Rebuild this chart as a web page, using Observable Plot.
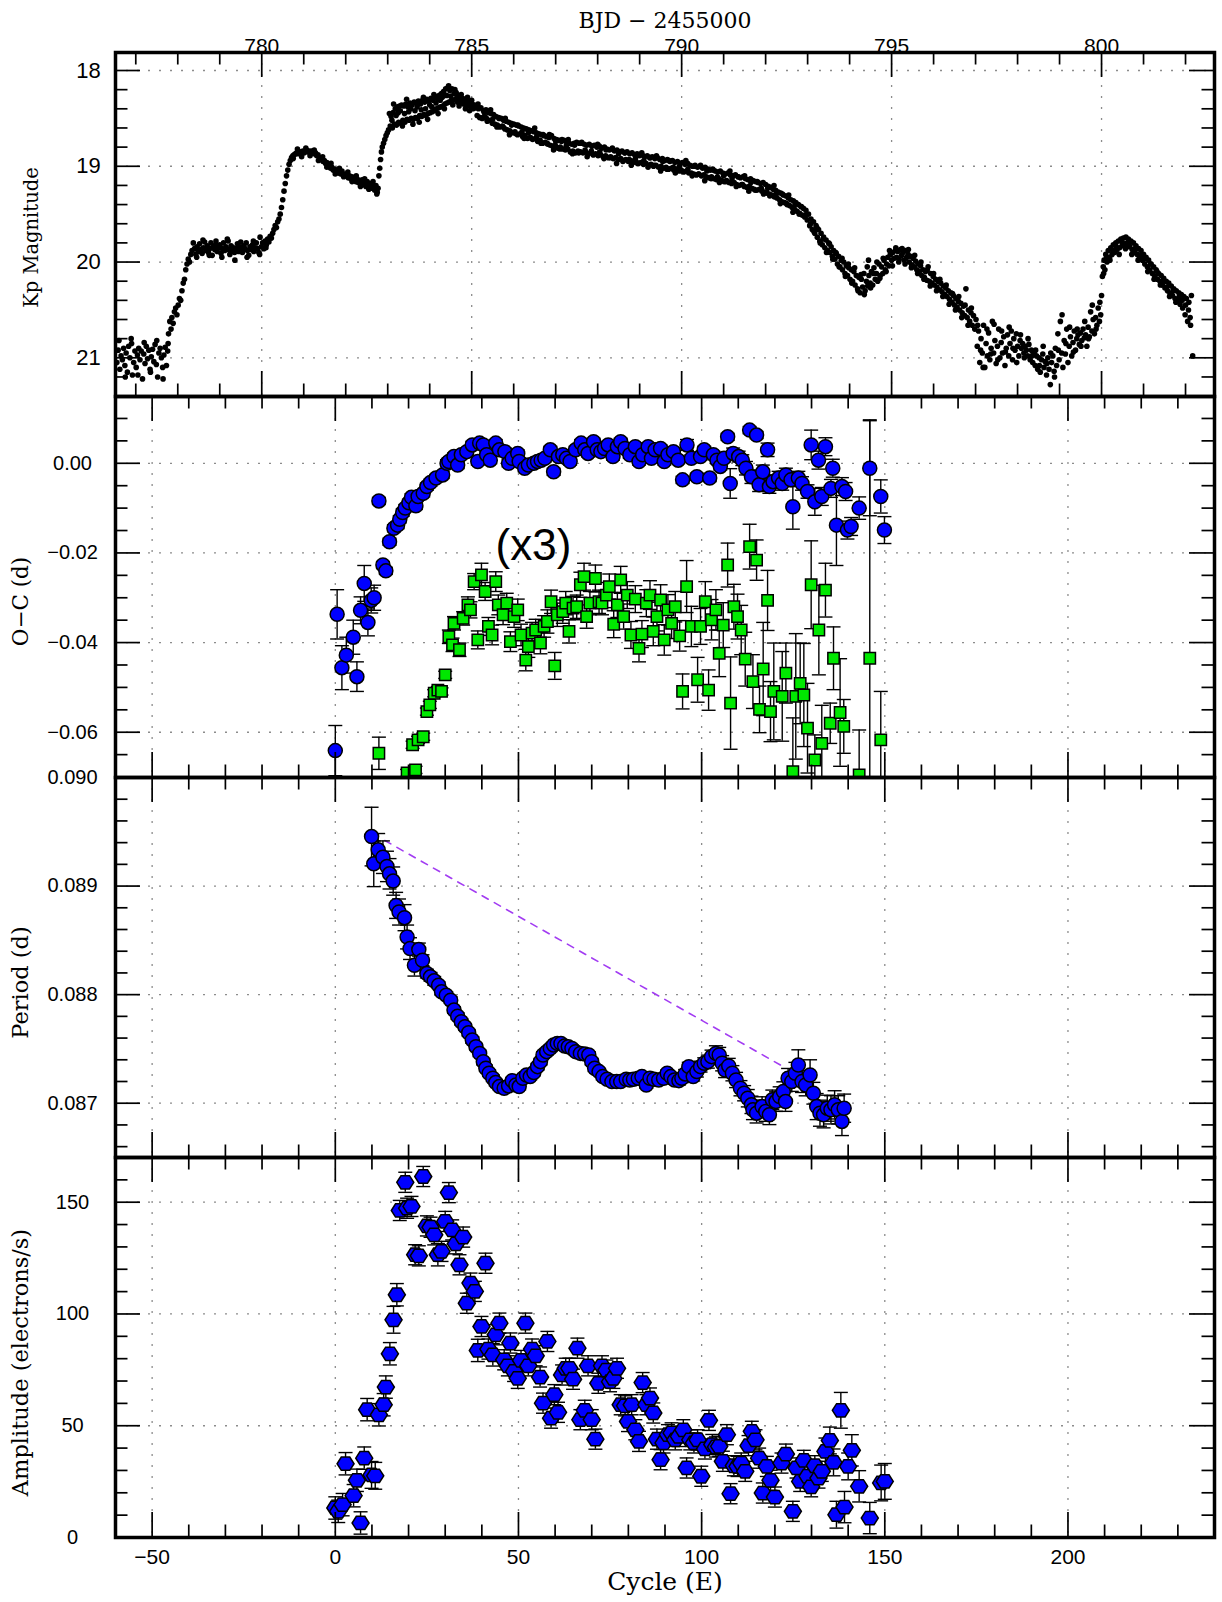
<!DOCTYPE html>
<html><head><meta charset="utf-8">
<script src="https://cdn.jsdelivr.net/npm/d3@7"></script>
<script src="https://cdn.jsdelivr.net/npm/@observablehq/plot@0.6"></script>
<style>
html,body{margin:0;padding:0;background:#fff;}
#chart{position:relative;width:1222px;height:1602px;overflow:hidden;background:#fff;}
</style></head><body><div id="chart"></div>
<script>
// ---------------- DATA ----------------
// Light curve: [BJD-2455000, Kp magnitude]
const lightCurve = [
[776.55,21.05],[776.58,20.92],[776.62,21.12],[776.65,20.98],[776.68,21.02],[776.71,20.90],[776.74,21.08],[776.77,20.95],[776.80,21.15],[776.83,20.88],[776.86,21.00],[776.89,20.80],[776.92,21.18],[776.95,21.05],[776.98,20.93],[777.01,21.10],[777.04,20.97],[777.07,20.90],[777.10,21.02],[777.13,20.93],[777.16,21.22],[777.19,20.96],[777.22,21.06],[777.25,20.88],[777.28,21.01],[777.31,20.92],[777.34,21.12],[777.37,20.99],[777.40,20.91],[777.43,21.04],[777.46,20.86],[777.49,21.07],[777.52,21.20],[777.55,20.95],[777.58,20.90],[777.61,21.00],[777.64,21.10],[777.67,20.97],[777.70,20.89],[777.73,21.08],[777.76,20.93],
[777.78,20.75],[777.81,20.62],[777.84,20.70],[777.86,20.58],[777.89,20.64],[777.92,20.52],[777.95,20.48],[777.98,20.55],[778.01,20.45],[778.04,20.38],[778.07,20.40],[778.10,20.30],[778.13,20.22],[778.16,20.18],[778.19,20.08],[778.22,20.02],[778.25,19.97],[778.28,20.00],[778.31,19.92],
[778.34,19.88],[778.37,19.80],[778.40,19.86],[778.43,19.92],[778.46,19.84],[778.49,19.89],[778.52,19.81],[778.55,19.87],[778.58,19.91],[778.61,19.85],[778.64,19.79],[778.67,19.88],[778.70,19.83],[778.73,19.90],[778.76,19.86],[778.79,19.80],[778.82,19.93],[778.85,19.84],[778.88,19.87],[778.91,19.78],[778.94,19.89],[778.97,19.85],[779.00,19.82],[779.03,19.91],[779.06,19.86],[779.09,19.80],[779.12,19.88],[779.15,19.84],[779.18,19.76],[779.21,19.87],[779.24,19.92],[779.27,19.83],[779.30,19.88],[779.33,19.85],[779.36,19.98],[779.39,19.86],[779.42,19.81],[779.45,19.89],[779.48,19.84],[779.51,19.87],[779.54,19.90],[779.57,19.83],[779.60,19.86],[779.63,19.80],[779.66,19.88],[779.69,19.93],[779.72,19.84],[779.75,19.87],[779.78,19.82],[779.81,19.89],[779.84,19.85],[779.87,19.80],[779.90,19.86],[779.93,19.90],[779.96,19.74],[779.99,19.84],[780.02,19.80],[780.05,19.86],[780.08,19.78],[780.11,19.82],[780.14,19.76],[780.17,19.79],[780.20,19.73],[780.23,19.75],
[780.26,19.70],[780.29,19.66],[780.32,19.62],[780.35,19.64],[780.38,19.58],[780.41,19.55],[780.44,19.50],[780.47,19.43],[780.50,19.35],[780.53,19.26],[780.56,19.18],[780.59,19.10],[780.62,19.04],[780.65,18.98],[780.68,18.94],[780.71,18.91],[780.74,18.89],[780.77,18.88],[780.80,18.87],[780.83,18.86],[780.86,18.87],[780.89,18.85],[780.92,18.86],[780.95,18.85],[780.98,18.84],[781.01,18.86],[781.04,18.84],[781.07,18.83],[781.10,18.85],[781.13,18.84],[781.16,18.86],[781.19,18.84],[781.22,18.85],[781.25,18.87],[781.28,18.86],[781.31,18.89],[781.34,18.88],[781.37,18.91],[781.40,18.93],[781.43,18.92],[781.46,18.95],[781.49,18.94],[781.52,18.97],[781.55,18.96],[781.58,19.00],[781.61,18.99],[781.64,19.02],[781.67,19.01],[781.70,19.04],[781.73,19.03],[781.76,19.05],[781.79,19.04],[781.82,19.07],[781.85,19.06],[781.88,19.08],[781.91,19.05],[781.94,19.09],[781.97,19.08],[782.00,19.10],[782.03,19.09],[782.06,19.12],[782.09,19.10],[782.12,19.13],[782.15,19.11],[782.18,19.14],[782.21,19.12],[782.24,19.16],[782.27,19.13],[782.30,19.17],[782.33,19.15],[782.36,19.18],[782.39,19.14],[782.42,19.19],[782.45,19.17],[782.48,19.21],[782.51,19.16],[782.54,19.20],[782.57,19.18],[782.60,19.23],[782.63,19.19],[782.66,19.22],[782.69,19.25],[782.72,19.20],[782.75,19.27],[782.77,19.23],
[782.79,19.10],[782.81,19.02],[782.83,18.93],[782.85,18.85],[782.87,18.80],[782.90,18.76],[782.93,18.72],[782.96,18.68],[782.99,18.65],[783.02,18.62],
[783.06,18.58],[783.08,18.48],[783.11,18.60],[783.13,18.44],[783.16,18.56],[783.18,18.40],[783.21,18.57],[783.23,18.38],[783.26,18.54],[783.28,18.37],[783.31,18.55],[783.33,18.36],[783.36,18.52],[783.38,18.37],[783.41,18.54],[783.43,18.35],[783.46,18.51],[783.48,18.38],[783.51,18.52],[783.53,18.34],[783.56,18.50],[783.58,18.36],[783.61,18.51],[783.63,18.33],[783.66,18.49],[783.68,18.34],[783.71,18.50],[783.73,18.32],[783.76,18.47],[783.78,18.35],[783.81,18.48],[783.83,18.31],[783.86,18.46],[783.88,18.33],[783.91,18.47],[783.93,18.30],[783.96,18.45],[783.98,18.32],[784.01,18.44],[784.03,18.29],[784.06,18.43],[784.08,18.31],[784.11,18.42],[784.13,18.27],[784.16,18.40],[784.18,18.29],[784.21,18.39],[784.23,18.26],[784.26,18.38],[784.28,18.24],[784.31,18.37],[784.33,18.22],[784.36,18.35],[784.38,18.19],[784.41,18.34],[784.43,18.18],[784.46,18.33],[784.48,18.21],[784.51,18.32],[784.53,18.19],[784.56,18.31],[784.58,18.24],[784.61,18.30],[784.63,18.23],[784.66,18.33],[784.68,18.26],[784.71,18.32],[784.73,18.27],[784.76,18.34],[784.78,18.29],[784.81,18.35],[784.83,18.30],[784.86,18.36],[784.88,18.31],[784.91,18.34],[784.93,18.37],[784.96,18.33],[784.98,18.38],[785.01,18.35],[785.03,18.40],[785.06,18.36],[785.08,18.39],
[785.10,18.37],[785.13,18.47],[785.16,18.40],[785.19,18.49],[785.22,18.39],[785.25,18.50],[785.28,18.42],[785.31,18.48],[785.34,18.41],[785.37,18.53],[785.40,18.44],[785.43,18.52],[785.46,18.45],[785.49,18.55],[785.52,18.46],[785.55,18.56],[785.58,18.48],[785.61,18.57],[785.64,18.49],[785.67,18.59],[785.70,18.50],[785.73,18.58],[785.76,18.52],[785.79,18.61],[785.82,18.53],[785.85,18.62],[785.88,18.54],[785.91,18.63],[785.94,18.55],[785.97,18.65],[786.00,18.56],[786.03,18.64],[786.06,18.57],[786.09,18.67],[786.12,18.58],[786.15,18.66],[786.18,18.59],[786.21,18.69],[786.24,18.60],[786.27,18.68],[786.30,18.61],[786.33,18.71],[786.36,18.62],[786.39,18.70],[786.42,18.63],[786.45,18.72],[786.48,18.64],[786.51,18.71],[786.54,18.65],[786.57,18.74],[786.60,18.66],[786.63,18.73],[786.66,18.67],[786.69,18.76],[786.72,18.68],[786.75,18.75],[786.78,18.69],[786.81,18.77],[786.84,18.70],[786.87,18.78],[786.90,18.68],[786.93,18.79],[786.96,18.71],[786.99,18.78],[787.02,18.72],[787.05,18.81],[787.08,18.73],[787.11,18.80],[787.14,18.74],[787.17,18.82],[787.20,18.73],[787.23,18.83],[787.26,18.75],[787.29,18.82],[787.32,18.76],[787.35,18.85],[787.38,18.77],[787.41,18.84],[787.44,18.76],[787.47,18.86],
[787.50,18.75],[787.53,18.84],[787.56,18.76],[787.59,18.85],[787.62,18.75],[787.65,18.86],[787.68,18.77],[787.71,18.85],[787.74,18.78],[787.77,18.87],[787.80,18.77],[787.83,18.86],[787.86,18.79],[787.89,18.88],[787.92,18.78],[787.95,18.87],[787.98,18.80],[788.01,18.89],[788.04,18.79],[788.07,18.88],[788.10,18.81],[788.13,18.90],[788.16,18.80],[788.19,18.89],[788.22,18.82],[788.25,18.91],[788.28,18.83],[788.31,18.90],[788.34,18.82],[788.37,18.92],[788.40,18.84],[788.43,18.91],[788.46,18.83],[788.49,18.93],[788.52,18.85],[788.55,18.92],[788.58,18.84],[788.61,18.94],[788.64,18.86],[788.67,18.93],[788.70,18.85],[788.73,18.95],[788.76,18.87],[788.79,18.94],[788.82,18.86],[788.85,18.96],[788.88,18.88],[788.91,18.95],[788.94,18.87],[788.97,18.97],[789.00,18.89],[789.03,18.96],[789.06,18.88],[789.09,18.98],[789.12,18.90],[789.15,18.97],[789.18,18.89],[789.21,18.99],[789.24,18.91],[789.27,18.98],[789.30,18.90],[789.33,19.00],[789.36,18.92],[789.39,18.99],[789.42,18.91],[789.45,19.01],[789.48,18.93],[789.51,19.00],[789.54,18.92],[789.57,19.02],[789.60,18.94],[789.63,19.01],[789.66,18.93],[789.69,19.03],[789.72,18.95],[789.75,19.02],[789.78,18.94],[789.81,19.04],[789.84,18.96],[789.87,19.03],[789.90,18.95],[789.93,19.05],[789.96,18.97],[789.99,19.04],[790.02,18.96],[790.05,19.06],[790.08,18.98],[790.11,19.05],[790.14,18.97],[790.17,19.07],[790.20,18.99],[790.23,19.07],[790.26,19.00],[790.29,19.08],[790.32,18.99],[790.35,19.09],[790.38,19.01],[790.41,19.08],[790.44,19.00],[790.47,19.10],[790.50,19.02],[790.53,19.09],[790.56,19.01],[790.59,19.11],[790.62,19.03],[790.65,19.12],[790.68,19.04],[790.71,19.11],[790.74,19.03],[790.77,19.13],[790.80,19.05],[790.83,19.14],[790.86,19.06],[790.89,19.13],[790.92,19.05],[790.95,19.15],[790.98,19.07],[791.01,19.16],[791.04,19.08],[791.07,19.15],[791.10,19.07],[791.13,19.17],[791.16,19.09],[791.19,19.18],[791.22,19.10],[791.25,19.17],[791.28,19.09],[791.31,19.19],[791.34,19.11],[791.37,19.20],[791.40,19.12],[791.43,19.19],[791.46,19.11],[791.49,19.21],[791.52,19.13],[791.55,19.22],[791.58,19.14],[791.61,19.21],[791.64,19.13],[791.67,19.23],[791.70,19.15],[791.73,19.24],[791.76,19.16],[791.79,19.25],[791.82,19.17],[791.85,19.24],[791.88,19.18],[791.91,19.26],[791.94,19.17],[791.97,19.27],[792.00,19.19],[792.03,19.28],[792.06,19.21],[792.09,19.29],[792.12,19.22],[792.15,19.30],[792.18,19.24],[792.21,19.32],[792.24,19.25],[792.27,19.33],[792.30,19.27],[792.33,19.35],[792.36,19.28],[792.39,19.37],[792.42,19.30],[792.45,19.38],[792.48,19.31],[792.51,19.40],[792.54,19.33],[792.57,19.41],[792.60,19.35],[792.63,19.43],[792.66,19.36],[792.69,19.45],[792.72,19.38],[792.75,19.47],[792.78,19.40],[792.81,19.49],[792.84,19.42],[792.87,19.51],[792.90,19.44],[792.93,19.53],[792.96,19.46],[792.99,19.56],
[793.02,19.50],[793.05,19.62],[793.08,19.55],[793.11,19.66],[793.14,19.58],[793.17,19.70],[793.20,19.62],[793.23,19.74],[793.26,19.66],[793.29,19.78],[793.32,19.70],[793.35,19.82],[793.38,19.74],[793.41,19.85],[793.44,19.77],[793.47,19.88],[793.50,19.80],[793.53,19.90],[793.56,19.84],[793.59,19.94],[793.62,19.88],[793.65,19.97],[793.68,19.91],[793.71,20.02],[793.74,19.94],[793.77,20.05],[793.80,19.98],[793.83,20.08],[793.86,20.00],[793.89,20.12],[793.92,20.04],[793.95,20.14],[793.98,20.06],[794.01,20.18],[794.04,20.08],[794.07,20.20],[794.10,20.10],[794.13,20.24],[794.16,20.14],[794.19,20.28],[794.22,20.16],[794.25,20.32],[794.28,20.18],[794.31,20.26],[794.34,20.12],[794.37,20.30],[794.40,20.20],[794.43,20.25],[794.46,20.14],[794.49,20.22],[794.52,20.10],[794.55,20.24],[794.58,20.06],[794.61,20.18],[794.64,20.12],[794.67,20.20],[794.70,20.02],[794.73,20.14],[794.76,20.05],[794.79,20.12],[794.82,19.98],[794.85,20.08],[794.88,20.02],[794.91,19.95],[794.94,20.04],[794.97,19.92],[795.00,19.98],[795.03,19.90],[795.06,19.96],[795.09,19.88],[795.12,19.95],[795.15,19.89],[795.18,19.97],[795.21,19.87],[795.24,19.93],[795.27,19.90],[795.30,19.98],[795.33,19.88],[795.36,19.95],[795.39,19.92],[795.42,20.00],[795.45,19.94],[795.48,20.03],[795.51,19.96],[795.54,20.05],[795.57,19.99],[795.60,20.08],[795.63,20.02],[795.66,20.10],[795.69,20.04],[795.72,20.14],[795.75,20.08],[795.78,20.16],[795.81,20.10],[795.84,20.19],[795.87,20.05],[795.90,20.20],[795.93,20.12],[795.96,20.22],[795.99,20.15],[796.02,20.24],[796.05,20.18],[796.08,20.26],[796.11,20.20],[796.14,20.29],[796.17,20.22],[796.20,20.31],[796.23,20.25],[796.26,20.34],[796.29,20.27],[796.32,20.36],[796.35,20.30],[796.38,20.39],[796.41,20.32],[796.44,20.42],[796.47,20.35],[796.50,20.45],[796.53,20.38],[796.56,20.47],[796.59,20.41],[796.62,20.50],[796.65,20.43],[796.68,20.53],[796.71,20.46],[796.74,20.56],[796.77,20.28],[796.80,20.58],[796.83,20.50],[796.86,20.62],[796.89,20.53],[796.92,20.66],[796.95,20.56],[796.98,20.70],
[797.01,20.60],[797.04,20.88],[797.07,20.72],[797.10,21.05],[797.13,20.80],[797.16,20.95],[797.19,20.66],[797.22,21.10],[797.25,20.85],[797.28,20.98],[797.31,20.74],[797.34,21.02],[797.37,20.90],[797.40,20.62],[797.43,20.95],[797.46,20.82],[797.49,21.06],[797.52,20.88],[797.55,20.70],[797.58,21.00],[797.61,20.84],[797.64,20.95],[797.67,20.78],[797.70,21.08],[797.73,20.90],[797.76,20.76],[797.79,20.98],[797.82,20.85],[797.85,20.72],[797.88,21.02],[797.91,20.80],[797.94,20.92],[797.97,20.75],[798.00,20.88],[798.03,20.98],[798.06,20.82],[798.09,20.90],[798.12,20.85],[798.15,20.95],[798.18,20.88],[798.21,20.92],[798.24,20.98],[798.27,20.86],[798.30,21.02],[798.33,20.92],[798.36,21.05],[798.39,20.95],[798.42,21.08],[798.45,20.98],[798.48,21.12],[798.51,21.00],[798.54,21.15],[798.57,21.02],[798.60,20.96],[798.63,21.10],[798.66,21.04],[798.69,21.18],[798.72,21.00],[798.75,21.12],[798.78,21.28],[798.81,21.05],[798.84,20.98],[798.87,21.14],[798.90,20.90],[798.93,21.08],[798.96,20.75],[798.99,21.02],[799.02,20.62],[799.05,20.95],[799.08,21.10],[799.11,20.82],[799.14,20.96],[799.17,20.70],[799.20,21.05],[799.23,20.88],[799.26,20.78],[799.29,20.98],[799.32,20.84],[799.35,20.72],[799.38,20.92],[799.41,20.80],[799.44,20.76],[799.47,20.86],[799.50,20.74],[799.53,20.82],[799.56,20.70],[799.59,20.79],[799.62,20.76],[799.65,20.88],[799.68,20.68],[799.71,20.78],[799.74,20.52],[799.77,20.72],[799.80,20.60],[799.83,20.75],[799.86,20.58],[799.89,20.66],[799.92,20.48],[799.95,20.62],[799.98,20.55],
[800.00,20.35],[800.02,20.15],[800.04,20.05],[800.06,19.98],[800.08,20.08],[800.10,19.92],[800.13,20.00],[800.16,19.88],[800.19,19.95],[800.22,19.85],[800.25,19.92],[800.28,19.82],[800.31,19.90],[800.34,19.80],[800.37,19.87],[800.40,19.78],[800.43,19.85],[800.46,19.76],[800.49,19.83],[800.52,19.75],[800.55,19.82],[800.58,19.74],[800.61,19.80],[800.64,19.76],[800.67,19.84],[800.70,19.78],[800.73,19.87],[800.76,19.80],[800.79,19.90],[800.82,19.83],[800.85,19.92],[800.88,19.86],[800.91,19.95],[800.94,19.88],[800.97,19.98],[801.00,19.92],[801.03,20.02],[801.06,19.95],[801.09,20.05],[801.12,19.98],[801.15,20.08],[801.18,20.02],[801.21,20.12],[801.24,20.05],[801.27,20.15],[801.30,20.08],[801.33,20.18],[801.36,20.12],[801.39,20.20],[801.42,20.14],[801.45,20.24],[801.48,20.17],[801.51,20.27],[801.54,20.20],[801.57,20.30],[801.60,20.22],[801.63,20.33],[801.66,20.25],[801.69,20.35],[801.72,20.28],[801.75,20.38],[801.78,20.30],[801.81,20.40],[801.84,20.32],[801.87,20.44],[801.90,20.34],[801.93,20.48],[801.96,20.36],[801.99,20.55],[802.02,20.38],[802.05,20.62],[802.08,20.42],[802.11,20.58],[802.14,20.35],[802.17,20.98]
];
const lightCurve2 = [
[776.60,20.82],[776.75,21.20],[776.90,20.85],[777.05,21.18],[777.20,20.84],[777.35,21.15],[777.50,20.82],[777.65,21.22],[777.77,20.85],
[778.45,19.95],[778.60,19.77],[778.75,19.93],[778.90,19.82],[779.05,19.95],[779.20,19.78],[779.35,19.90],[779.50,19.79],[779.65,19.95],[779.80,19.78],[779.95,19.92],[780.10,19.85],
[780.75,18.92],[780.85,18.82],[780.95,18.90],[781.05,18.81],[781.15,18.89],[781.25,18.83],[781.35,18.94],[781.45,18.90],[781.55,19.01],[781.65,18.97],[781.75,19.08],[781.85,19.02],[781.95,19.11],[782.05,19.06],[782.15,19.16],[782.25,19.10],[782.35,19.21],[782.45,19.13],[782.55,19.24],[782.65,19.16],[782.74,19.29],
[783.04,18.45],[783.10,18.52],[783.14,18.35],[783.20,18.47],[783.25,18.44],[783.30,18.42],[783.35,18.58],[783.40,18.45],[783.45,18.30],[783.50,18.43],[783.55,18.40],[783.60,18.56],[783.65,18.42],[783.70,18.38],[783.75,18.54],[783.80,18.41],[783.85,18.28],[783.90,18.40],[783.95,18.51],[784.00,18.36],[784.05,18.38],[784.10,18.25],[784.15,18.34],[784.20,18.45],[784.25,18.31],[784.30,18.28],[784.35,18.40],[784.40,18.26],[784.45,18.16],[784.50,18.27],[784.55,18.36],[784.60,18.20],[784.65,18.28],[784.70,18.37],[784.75,18.25],[784.80,18.31],[784.85,18.40],[784.90,18.28],[784.95,18.42],[785.00,18.31],
[785.05,18.39],[785.15,18.35],[785.20,18.49],[785.30,18.44],[785.35,18.50],[785.45,18.41],[785.50,18.51],[785.60,18.59],[785.65,18.50],[785.75,18.59],[785.80,18.50],[785.90,18.67],[785.95,18.57],[786.05,18.66],[786.10,18.57],[786.20,18.64],[786.25,18.71],[786.35,18.65],[786.40,18.70],[786.50,18.60],[786.55,18.69],[786.65,18.76],[786.70,18.67],[786.80,18.76],[786.85,18.67],[786.95,18.83],[787.00,18.74],[787.10,18.82],[787.15,18.72],[787.25,18.79],[787.30,18.72],[787.40,18.87],[787.45,18.78],[787.55,18.86],[787.60,18.76],[787.70,18.83],[787.75,18.90],[787.85,18.84],[787.90,18.88],[788.00,18.77],[788.05,18.85],[788.15,18.92],[788.20,18.83],[788.30,18.91],[788.35,18.81],[788.45,18.97],[788.50,18.87],[788.60,18.95],[788.65,18.86],[788.75,18.93],[788.80,18.99],[788.90,18.92],[788.95,18.97],[789.05,18.86],[789.10,18.94],[789.20,19.01],[789.25,18.91],[789.35,18.99],[789.40,18.89],[789.50,19.05],[789.55,18.95],[789.65,19.03],[789.70,18.94],[789.80,19.01],[789.85,19.07],[789.95,19.00],[790.00,19.05],[790.10,18.94],[790.15,19.03],[790.25,19.10],[790.30,19.00],[790.40,19.08],[790.45,18.99],[790.55,19.15],[790.60,19.05],[790.70,19.13],[790.75,19.04],[790.85,19.11],[790.90,19.17],[791.00,19.10],[791.05,19.16],[791.15,19.05],[791.20,19.13],[791.30,19.21],[791.35,19.11],[791.45,19.19],[791.50,19.10],[791.60,19.26],[791.65,19.17],[791.75,19.25],[791.80,19.16],[791.90,19.23],[791.95,19.29],[792.05,19.23],[792.10,19.31],[792.20,19.20],[792.25,19.29],[792.35,19.39],[792.40,19.29],[792.50,19.39],[792.55,19.30],[792.65,19.48],[792.70,19.40],[792.80,19.50],[792.85,19.42],[792.95,19.51],
[793.07,19.60],[793.15,19.68],[793.22,19.64],[793.30,19.80],[793.37,19.76],[793.45,19.90],[793.52,19.81],[793.60,19.97],[793.67,19.90],[793.75,20.05],[793.82,19.96],[793.90,20.15],[793.97,20.02],[794.05,20.22],[794.12,20.06],[794.20,20.30],[794.27,20.13],[794.35,20.34],[794.42,20.05],[794.45,19.98],[794.50,20.27],[794.57,20.12],[794.65,20.00],[794.72,20.17],[794.80,19.96],[794.87,20.10],[794.95,19.88],[795.02,20.04],[795.10,19.85],[795.17,20.00],[795.25,19.86],[795.32,20.02],[795.40,19.87],[795.47,20.06],[795.55,19.93],[795.62,20.12],[795.70,20.00],[795.77,20.18],[795.85,20.08],[795.92,20.25],[796.00,20.12],[796.07,20.30],[796.15,20.18],[796.22,20.36],[796.30,20.24],[796.37,20.44],[796.45,20.33],[796.52,20.50],[796.60,20.36],[796.67,20.58],[796.75,20.45],[796.82,20.66],[796.90,20.48],
[797.05,20.66],[797.12,20.92],[797.18,21.10],[797.27,20.70],[797.36,20.96],[797.44,20.65],[797.53,21.02],[797.62,20.72],[797.71,20.94],[797.80,20.68],[797.89,20.90],[797.98,21.05],[798.07,20.76],[798.16,21.00],[798.25,20.80],[798.34,20.98],[798.43,20.92],[798.52,21.08],[798.61,20.88],[798.70,21.06],[798.79,20.95],[798.88,21.20],[798.97,20.92],[799.06,20.55],[799.15,20.85],[799.24,20.68],[799.33,20.94],[799.42,20.70],[799.51,20.88],[799.60,20.62],[799.69,20.80],[799.78,20.45],[799.87,20.70],[799.96,20.42],
[800.05,20.12],[800.12,19.95],[800.20,19.98],[800.27,19.88],[800.35,19.84],[800.42,19.92],[800.50,19.80],[800.57,19.86],[800.65,19.82],[800.72,19.92],[800.80,19.86],[800.87,19.98],[800.95,19.93],[801.02,19.97],[801.10,20.10],[801.17,20.02],[801.25,20.18],[801.32,20.10],[801.40,20.24],[801.47,20.20],[801.55,20.26],[801.62,20.36],[801.70,20.30],[801.77,20.42],[801.85,20.36],[801.92,20.40],[802.00,20.45],[802.07,20.50],[802.12,20.66]
];

// O-C (d): [cycle E, O-C, error]
const ocBlue = [
[0,-0.0641,0.0056],[0.5,-0.0337,0.0055],[1.8,-0.0456,0.0049],[3,-0.0428,0.004],[4.9,-0.0388,0.0038],[5.9,-0.0476,0.0033],[6.9,-0.0328,0.003],[7.9,-0.0268,0.004],[8.9,-0.0355,0.003],[9.8,-0.0306,0.0028],[10.6,-0.0300,0.0028],[11.9,-0.0084,0.0008],[13,-0.0227,0.0008],[13.8,-0.0240,0.0008],[14.8,-0.0175,0.0008],[16,-0.0145,0.0008],[17,-0.0138,0.0008],[17.6,-0.0125,0.0008],[18.4,-0.0110,0.0008],[19.1,-0.0100,0.0008],[20.1,-0.0088,0.0008],[20.8,-0.0076,0.0008],[22,-0.0095,0.0008],[22.6,-0.0074,0.0008],[24,-0.0067,0.0008],[25,-0.0052,0.0008],[26,-0.0043,0.0008],[27.5,-0.0033,0.0008],[29.3,-0.0026,0.0008],[30.5,0.0000,0.0008],[31,0.0004,0.0008],[32.4,0.0015,0.0008],[33.4,-0.0004,0.0008],[34.4,0.0019,0.0008],[35.9,0.0026,0.0008],[37.4,0.0041,0.0008],[38.9,0.0004,0.0008],[39.4,0.0045,0.0008],[40.4,0.0041,0.0008],[41.3,0.0019,0.0008],[42.3,0.0007,0.0008],[43.8,0.0045,0.0008],[44.8,0.0030,0.0008],[46.3,0.0026,0.0008],[47.3,0.0000,0.0008],[48.3,0.0011,0.0008],[49.8,0.0022,0.0008],[50.2,0.0004,0.0008],[51.7,-0.0011,0.0008],[52.7,-0.0004,0.0008],[54.2,0.0000,0.0008],[55.2,0.0004,0.0008],[56.2,0.0007,0.0008],[57.2,0.0011,0.0008],[58.7,0.0030,0.0008],[59.6,-0.0019,0.0008],[60.9,0.0015,0.0008],[62.1,0.0019,0.0008],[63.1,0.0011,0.0008],[64.1,0.0004,0.0008],[65.6,0.0030,0.0008],[67.1,0.0045,0.0008],[68.1,0.0030,0.0008],[69.0,0.0022,0.0008],[70.5,0.0048,0.0008],[71.5,0.0030,0.0008],[72.5,0.0026,0.0008],[73.5,0.0033,0.0008],[74.5,0.0041,0.0008],[75.8,0.0015,0.0008],[77,0.0037,0.0008],[77.9,0.0048,0.0008],[79.1,0.0033,0.0008],[80.4,0.0019,0.0008],[81.9,0.0037,0.0008],[82.9,0.0004,0.0008],[83.9,0.0019,0.0008],[85.4,0.0037,0.0008],[86.3,0.0011,0.0008],[87.3,0.0030,0.0008],[88.8,0.0033,0.0008],[89.8,0.0004,0.0008],[90.8,0.0019,0.0008],[92.3,0.0026,0.0008],[93.6,0.0007,0.0008],[94.8,-0.0037,0.0008],[96.0,0.0041,0.0012],[97.2,0.0011,0.0008],[98.7,-0.0030,0.0008],[99.7,0.0015,0.0008],[100.7,0.0030,0.0008],[102.2,-0.0033,0.0008],[103.2,0.0019,0.0008],[104.2,0.0007,0.0008],[105.1,-0.0007,0.0008],[106.1,0.0011,0.0008],[107.1,0.0059,0.0008],[107.8,-0.0045,0.0033],[108.6,0.0022,0.0012],[110.1,0.0015,0.0012],[111.1,0.0007,0.0012],[112.1,-0.0011,0.0015],[113.1,0.0074,0.0008],[113.6,-0.0030,0.0015],[115,0.0063,0.0008],[115.7,-0.0048,0.0015],[116.7,-0.0019,0.0015],[118,0.0030,0.0015],[118.5,-0.0052,0.0015],[119.5,-0.0041,0.0015],[121,-0.0033,0.0015],[122,-0.0045,0.0015],[123,-0.0026,0.0015],[124.4,-0.0037,0.0015],[124.9,-0.0097,0.0050],[126.4,-0.0033,0.0015],[127.4,-0.0045,0.0015],[128.9,-0.0063,0.0015],[129.9,0.0041,0.0033],[130.9,-0.0086,0.0030],[131.9,0.0007,0.0020],[132.8,-0.0074,0.0020],[133.8,0.0037,0.0020],[135.3,-0.0056,0.0020],[135.8,-0.0011,0.0020],[136.8,-0.0138,0.0090],[138.3,-0.0052,0.0020],[139.3,-0.0063,0.0020],[139.8,-0.0149,0.0020],[140.8,-0.0141,0.0020],[143,-0.0100,0.0025],[145.9,-0.0011,0.0106],[148.9,-0.0074,0.0037],[149.9,-0.0149,0.0030]
];
const ocGreen = [
[11.9,-0.0647,0.0036],[19.6,-0.0691,0.0008],[21.1,-0.0628,0.0008],[21.9,-0.0684,0.0008],[22.6,-0.0617,0.0008],[24,-0.0610,0.0008],[25,-0.0554,0.0008],[25.8,-0.0539,0.0008],[27,-0.0513,0.0008],[28,-0.0506,0.0008],[29,-0.0509,0.0008],[30,-0.0472,0.0008],[31,-0.0387,0.0015],[32,-0.0405,0.0015],[32.4,-0.0357,0.0015],[33.9,-0.0416,0.0015],[34.9,-0.0346,0.0015],[36.2,-0.0316,0.0018],[36.9,-0.0327,0.0018],[37.9,-0.0264,0.0018],[38.9,-0.0394,0.0020],[39.9,-0.0249,0.0026],[40.9,-0.0286,0.0020],[41.8,-0.0364,0.0020],[42.8,-0.0383,0.0022],[43.8,-0.0264,0.0022],[44.5,-0.0316,0.0022],[45.8,-0.0338,0.0022],[46.8,-0.0312,0.0022],[47.8,-0.0398,0.0022],[48.8,-0.0342,0.0024],[49.8,-0.0327,0.0024],[50.7,-0.0383,0.0024],[52,-0.0439,0.0024],[52.7,-0.0409,0.0024],[53.7,-0.0379,0.0024],[54.7,-0.0372,0.0024],[56,-0.0401,0.0024],[57,-0.0364,0.0024],[57.9,-0.0353,0.0026],[58.9,-0.0309,0.0026],[59.9,-0.0452,0.0030],[60.6,-0.0338,0.0026],[62.1,-0.0331,0.0026],[62.9,-0.0312,0.0026],[63.8,-0.0375,0.0026],[64.9,-0.0323,0.0026],[65.9,-0.0320,0.0026],[66.9,-0.0271,0.0028],[67.9,-0.0253,0.0030],[68.6,-0.0342,0.0026],[69.5,-0.0312,0.0026],[71,-0.0257,0.0030],[72,-0.0309,0.0026],[72.8,-0.0312,0.0026],[74,-0.0294,0.0028],[74.8,-0.0275,0.0028],[76,-0.0359,0.0030],[77,-0.0316,0.0028],[77.9,-0.0260,0.0030],[78.7,-0.0342,0.0028],[79.7,-0.0294,0.0030],[80.7,-0.0383,0.0030],[81.9,-0.0303,0.0030],[82.9,-0.0413,0.0030],[83.7,-0.0381,0.0030],[84.9,-0.0312,0.0030],[85.9,-0.0294,0.0032],[86.8,-0.0375,0.0032],[87.8,-0.0342,0.0032],[88.8,-0.0305,0.0034],[89.8,-0.0394,0.0034],[90.8,-0.0327,0.0034],[91.8,-0.0357,0.0034],[92.8,-0.0320,0.0034],[94,-0.0385,0.0034],[94.8,-0.0509,0.0039],[95.9,-0.0275,0.0058],[97.2,-0.0364,0.0045],[98.9,-0.0483,0.0050],[99.7,-0.0364,0.0040],[101,-0.0309,0.0045],[101.9,-0.0506,0.0045],[102.7,-0.0349,0.0045],[103.9,-0.0327,0.0045],[104.8,-0.0424,0.0052],[105.9,-0.0361,0.0050],[107.1,-0.0227,0.0049],[107.9,-0.0535,0.0103],[108.8,-0.0320,0.0050],[109.8,-0.0342,0.0050],[110.8,-0.0372,0.0055],[111.9,-0.0437,0.0060],[113.1,-0.0186,0.0050],[114,-0.0487,0.0060],[115,-0.0216,0.0045],[115.8,-0.0549,0.0052],[116.8,-0.0459,0.0104],[118,-0.0306,0.0067],[118.8,-0.0554,0.0067],[119.7,-0.0509,0.0108],[122,-0.0520,0.0100],[123,-0.0468,0.0067],[124.9,-0.0688,0.0120],[125.7,-0.0520,0.0140],[126.9,-0.0491,0.0090],[127.9,-0.0517,0.0115],[128.9,-0.0591,0.0100],[129.9,-0.0271,0.0098],[130.9,-0.0662,0.0056],[132,-0.0372,0.0100],[132.8,-0.0625,0.0085],[133.8,-0.0283,0.0060],[135.1,-0.0580,0.0045],[136,-0.0435,0.0070],[137.8,-0.0556,0.0120],[138.8,-0.0587,0.0060],[143,-0.0695,0.0100],[145.9,-0.0435,0.0532],[148.9,-0.0617,0.0108]
];

// Period (d): [E, P, error]
const period = [
[9.9,0.089456,0.00027],[10.5,0.089205,0.00021],[11.7,0.089334,0.00015],[13,0.089266,0.00015],[14.1,0.089181,0.00014],[14.8,0.089113,0.00014],[15.8,0.089046,0.00013],[16.6,0.088822,0.00012],[17.4,0.088761,0.00012],[18.9,0.088709,0.00012],[19.6,0.088531,0.00011],[20.4,0.088424,0.0001],[21.6,0.088271,0.0001],[22.8,0.088415,0.00006],[23.8,0.088317,0.00005],[25,0.088194,0.00004],[26,0.088164,0.00004],[27,0.088127,0.00004],[28.2,0.088087,0.00003],[29,0.088026,0.00003],[30.3,0.087995,0.00003],[31.5,0.087949,0.00003],[32.4,0.087858,0.00003],[33.4,0.087802,0.00003],[34.4,0.087750,0.00003],[35.4,0.087704,0.00003],[36.4,0.087649,0.00003],[37.4,0.087582,0.00003],[38.4,0.087521,0.00003],[39.4,0.087459,0.00003],[40.4,0.087383,0.00003],[41.1,0.087322,0.00003],[42,0.087276,0.00003],[43,0.087230,0.00003],[43.8,0.087190,0.00003],[44.8,0.087153,0.00003],[46.1,0.087138,0.00003],[47.3,0.087159,0.00003],[48.3,0.087208,0.00003],[49.3,0.087168,0.00003],[50.2,0.087153,0.00003],[51.2,0.087230,0.00003],[52.2,0.087260,0.00003],[53.2,0.087245,0.00003],[54.2,0.087282,0.00003],[55.2,0.087337,0.00003],[56,0.087383,0.00003],[56.7,0.087444,0.00003],[57.7,0.087475,0.00003],[58.7,0.087505,0.00003],[59.6,0.087536,0.00003],[60.6,0.087551,0.00003],[61.6,0.087551,0.00003],[62.6,0.087527,0.00003],[63.6,0.087521,0.00003],[64.6,0.087505,0.00003],[65.6,0.087475,0.00003],[66.9,0.087459,0.00003],[68.1,0.087453,0.00003],[69.2,0.087444,0.00003],[70,0.087383,0.00003],[70.8,0.087322,0.00003],[72,0.087291,0.00003],[73,0.087245,0.00003],[74.2,0.087221,0.00003],[75.5,0.087199,0.00003],[76.8,0.087199,0.00003],[77.9,0.087199,0.00003],[79.4,0.087221,0.00003],[80.4,0.087214,0.00003],[81.4,0.087221,0.00003],[82.7,0.087230,0.00003],[83.7,0.087245,0.00003],[84.9,0.087168,0.00003],[85.9,0.087230,0.00003],[87,0.087221,0.00003],[88.3,0.087214,0.00003],[89.6,0.087230,0.00003],[90.6,0.087276,0.00003],[91.6,0.087245,0.00003],[92.6,0.087214,0.00004],[93.8,0.087208,0.00004],[94.6,0.087230,0.00004],[95.5,0.087270,0.00004],[96.5,0.087337,0.00004],[97.7,0.087245,0.00004],[98.7,0.087291,0.00005],[99.7,0.087337,0.00005],[100.7,0.087368,0.00005],[101.7,0.087383,0.00006],[102.7,0.087429,0.00006],[103.9,0.087459,0.00007],[104.8,0.087444,0.00007],[105.6,0.087368,0.00007],[106.4,0.087306,0.00007],[107.4,0.087343,0.00007],[108.4,0.087276,0.00007],[109.4,0.087214,0.00007],[110.6,0.087138,0.00007],[111.6,0.087092,0.00007],[112.6,0.087046,0.00008],[113.6,0.086985,0.00008],[114,0.086939,0.00009],[115,0.086908,0.00009],[116.5,0.086969,0.00009],[117.5,0.086923,0.00009],[118.5,0.086893,0.00009],[119.3,0.087031,0.00009],[120.3,0.087015,0.00009],[121.3,0.087061,0.00009],[122.3,0.087107,0.00009],[122.9,0.087015,0.00009],[123.6,0.087230,0.00009],[124.6,0.087199,0.00009],[125.6,0.087276,0.0001],[126.4,0.087352,0.00014],[127.4,0.087199,0.0001],[128.4,0.087168,0.0001],[129.6,0.087260,0.00014],[130.5,0.087092,0.0001],[131.4,0.086969,0.00012],[132.3,0.086908,0.00012],[133.3,0.086893,0.00012],[134.3,0.086954,0.00012],[135.3,0.086939,0.00013],[136.3,0.086985,0.00013],[137.3,0.086939,0.00013],[138.3,0.086832,0.00013],[138.9,0.086954,0.00013]
];
// dashed reference line in the period panel
const trendLine = [[13.5,0.08942],[121.5,0.087352]];

// Amplitude (electrons/s): [E, amplitude, error]
const amplitude = [
[0,13.2,5],[0.8,11.7,5],[2,14.7,5],[2.8,33.0,5],[5,18.7,5],[5.9,25.6,5],[6.9,6.5,5],[7.9,35.5,5],[8.7,57.2,5],[9.9,28.0,6],[10.9,27.6,6],[11.9,54.9,5],[13.2,59.4,5],[13.8,67.3,5],[14.9,82.2,5],[15.9,97.4,6],[16.8,108.6,5],[17.6,146.3,4.5],[19.1,158.9,4.5],[19.6,147.3,4.5],[20.8,148.1,4.5],[21.8,126.5,4.5],[22.8,126.0,4.5],[24,161.5,4.5],[25,139.4,4.5],[26,138.8,4.5],[27,135.4,4.5],[28,126.5,5],[29,128.0,4.5],[30,141.4,4.5],[31,154.3,4.5],[31.9,137.6,4.5],[32.9,131.4,4.5],[33.9,122.0,4.5],[34.9,134.4,4.5],[35.9,104.8,4.5],[36.9,113.8,4.5],[38.1,110.1,4.5],[38.9,83.7,5],[39.9,94.4,4.5],[41,122.7,4.5],[41.8,84.3,4.5],[43,81.7,5],[43.8,90.7,4.5],[44.8,95.9,4.5],[46.1,79.5,4.5],[47.1,76.8,4.5],[47.8,87.0,4.5],[48.8,74.3,4.5],[49.8,71.2,4.5],[50.7,79.2,4.5],[51.9,95.9,4.5],[52.7,76.8,4.5],[53.7,84.3,4.5],[54.7,81.3,4.5],[55.9,71.8,4.5],[56.7,60.1,4.5],[57.9,87.7,4.5],[58.9,53.4,4.5],[59.8,63.9,4.5],[60.8,56.0,4.5],[61.9,72.7,4.5],[62.9,75.7,4.5],[63.9,75.7,4.5],[64.9,70.8,4.5],[66.1,84.7,4.5],[66.9,52.7,4.5],[68.1,56.9,4.5],[69,76.8,4.5],[70,52.7,4.5],[71,44.0,4.5],[71.8,69.0,4.5],[72.8,76.8,4.5],[74,74.9,4.5],[75,69.7,4.5],[75.9,71.2,4.5],[76.9,75.7,4.5],[77.9,59.4,4.5],[79.1,58.9,4.5],[79.9,51.9,4.5],[80.9,59.4,4.5],[81.9,48.2,4.5],[82.9,43.0,4.5],[83.9,69.3,4.5],[84.9,59.4,4.5],[85.9,62.4,4.5],[86.8,55.7,4.5],[87.8,44.0,4.5],[88.8,34.8,4.5],[89.6,42.3,4.5],[90.8,46.0,4.5],[91.8,46.8,4.5],[92.8,43.7,4.5],[93.8,45.2,4.5],[95,48.2,4.5],[95.9,31.1,4.5],[96.9,43.7,4.5],[97.9,42.3,4.5],[98.9,43.7,4.5],[99.9,27.4,4.5],[100.9,39.6,4.5],[102,52.4,4.5],[102.9,41.6,4.5],[103.9,40.5,4.5],[104.8,40.8,4.5],[105.8,34.1,4.5],[106.9,46.0,4.5],[107.9,19.6,4.5],[108.8,32.1,4.5],[109.8,31.8,4.5],[110.8,33.3,4.5],[111.9,29.6,4.5],[112.8,41.1,4.5],[113.7,47.5,4.5],[114.7,43.7,4.5],[115.7,35.5,4.5],[116.7,19.9,4.5],[117.8,31.8,4.5],[118.8,25.6,4.5],[120,18.1,4.5],[121.8,33.3,4.5],[123,37.3,4.5],[124.9,11.7,4.5],[125.9,31.1,4.5],[126.9,25.1,4.5],[127.9,34.5,4.5],[128.9,27.4,4.5],[129.9,22.7,4.5],[130.9,32.1,4.5],[131.9,26.6,4.5],[132.8,29.6,4.5],[133.8,38.5,6],[135,43.4,6],[136,33.6,6],[136.8,10.2,6],[138,56.9,8],[139,13.6,7],[140,31.8,6],[141,39.0,7],[143,22.9,7],[145.9,8.7,7],[149,24.4,8],[150,25.1,8]
];

// Axes: domains, ticks and labels
const bjdDomain = [776.517, 802.69];
const bjdMajor = [780, 785, 790, 795, 800];
const bjdMinor = [777,778,779,781,782,783,784,786,787,788,789,791,792,793,794,796,797,798,799,801,802];
const magDomain = [21.404, 17.812];
const magMajor = [18, 19, 20, 21];
const magMinor = [18.2,18.4,18.6,18.8,19.2,19.4,19.6,19.8,20.2,20.4,20.6,20.8,21.2,21.4];
const cycleDomain = [-60, 240];
const cycleMajor = [-50, 0, 50, 100, 150, 200];
const cycleLabels = ["\u221250", "0", "50", "100", "150", "200"];
const cycleMinor = [-40,-30,-20,-10,10,20,30,40,60,70,80,90,110,120,130,140,160,170,180,190,210,220,230];
const ocDomain = [-0.0701, 0.0149];
const ocMajor = [0, -0.02, -0.04, -0.06];
const ocLabels = ["0.00", "\u22120.02", "\u22120.04", "\u22120.06"];
const ocMinor = [0.01,0.005,-0.005,-0.01,-0.015,-0.025,-0.03,-0.035,-0.045,-0.05,-0.055,-0.065];
const perDomain = [0.0865, 0.0900];
const perMajor = [0.087, 0.088, 0.089, 0.090];
const perLabels = ["0.087", "0.088", "0.089", "0.090"];
const perMinor = [0.0866,0.0868,0.0872,0.0874,0.0876,0.0878,0.0882,0.0884,0.0886,0.0888,0.0892,0.0894,0.0896,0.0898];
const ampDomain = [0, 170];
const ampMajor = [0, 50, 100, 150];
const ampMinor = [10,20,30,40,60,70,80,90,110,120,130,140,160];
const titles = {
  top: "BJD \u2212 2455000", bottom: "Cycle (E)",
  kp: "Kp Magnitude", oc: "O\u2212C (d)", per: "Period (d)", amp: "Amplitude (electrons/s)"
};
const note = {text: "(x3)", E: 54.1, oc: -0.0184};

// ---------------- DRAWING ----------------
const W = 1222, ML = 115, MR = 8, FW = W - ML - MR;
const tickFont = "'Liberation Sans', Arial, Helvetica, sans-serif";
const titleFont = "'DejaVu Serif', serif";
const chart = document.getElementById("chart");
const grid = {stroke: "#8c8c8c", strokeWidth: 1.3, strokeDasharray: "2,9"};

const hexFlat = {draw(ctx, size) {
  const r = Math.sqrt(size / Math.PI), h = r * 0.78;
  ctx.moveTo(r, 0); ctx.lineTo(r / 2, h); ctx.lineTo(-r / 2, h);
  ctx.lineTo(-r, 0); ctx.lineTo(-r / 2, -h); ctx.lineTo(r / 2, -h); ctx.closePath();
}};
const capSym = {draw(ctx, size) {
  const r = Math.sqrt(size / Math.PI);
  ctx.moveTo(-r, 0); ctx.lineTo(r, 0);
}};

function frameTicks(xMaj, xMin, yMaj, yMin, H) {
  const s = {stroke: "black", strokeWidth: 1.7};
  const L = 25, l = 12.5;
  return [
    Plot.tickX(xMaj, {x: d => d, ...s, insetBottom: H - L}),
    Plot.tickX(xMaj, {x: d => d, ...s, insetTop: H - L}),
    Plot.tickX(xMin, {x: d => d, ...s, insetBottom: H - l}),
    Plot.tickX(xMin, {x: d => d, ...s, insetTop: H - l}),
    Plot.tickY(yMaj, {y: d => d, ...s, insetRight: FW - L}),
    Plot.tickY(yMaj, {y: d => d, ...s, insetLeft: FW - L}),
    Plot.tickY(yMin, {y: d => d, ...s, insetRight: FW - l}),
    Plot.tickY(yMin, {y: d => d, ...s, insetLeft: FW - l})
  ];
}
function errorBars(data, capR) {
  const s = {stroke: "black", strokeWidth: 1.4, clip: true};
  return [
    Plot.ruleX(data, {x: d => d[0], y1: d => d[1] - d[2], y2: d => d[1] + d[2], ...s}),
    Plot.dot(data, {x: d => d[0], y: d => d[1] + d[2], symbol: capSym, r: capR, fill: "none", ...s}),
    Plot.dot(data, {x: d => d[0], y: d => d[1] - d[2], symbol: capSym, r: capR, fill: "none", ...s})
  ];
}
function panel(frameTop, frameBottom, mt, mb, xDomain, yDomain, marks) {
  const H = frameBottom - frameTop;
  const svg = Plot.plot({
    width: W, height: H + mt + mb,
    marginLeft: ML, marginRight: MR, marginTop: mt, marginBottom: mb,
    x: {domain: xDomain, axis: null},
    y: {domain: yDomain, axis: null},
    style: {background: "transparent", overflow: "visible", fontFamily: tickFont, color: "black",
            position: "absolute", left: "0px", top: (frameTop - mt) + "px", maxWidth: "none"},
    marks: [...marks, Plot.frame({stroke: "black", strokeWidth: 3.5})]
  });
  chart.appendChild(svg);
}
function yTitle(text, dx, dy, size) {
  return Plot.text([text], {text: d => d, frameAnchor: "left", dx, dy, rotate: -90,
    textAnchor: "middle", fontFamily: titleFont, fontSize: size});
}

// Panel 1: light curve
const H1 = 396 - 52;
panel(52, 396, 52, 6, bjdDomain, magDomain, [
  Plot.ruleX(bjdMajor, {x: d => d, ...grid}),
  Plot.ruleY(magMajor, {y: d => d, ...grid}),
  Plot.dot(lightCurve, {x: d => d[0], y: d => d[1], r: 2.8, fill: "black", clip: true}),
  Plot.dot(lightCurve2, {x: d => d[0], y: d => d[1], r: 2.8, fill: "black", clip: true}),
  ...frameTicks(bjdMajor, bjdMinor, magMajor, magMinor, H1),
  Plot.text(bjdMajor, {x: d => d, text: d => String(d), frameAnchor: "top", dy: -14, fontSize: 21}),
  Plot.text(magMajor, {y: d => d, text: d => String(d), frameAnchor: "left", dx: -27, textAnchor: "middle", fontSize: 22}),
  Plot.text([titles.top], {text: d => d, frameAnchor: "top", dy: -40, fontFamily: titleFont, fontSize: 22}),
  yTitle(titles.kp, -83.5, 13, 19.5)
]);

// Panel 2: O-C
const H2 = 777 - 396;
panel(396, 777, 6, 6, cycleDomain, ocDomain, [
  Plot.ruleX(cycleMajor, {x: d => d, ...grid}),
  Plot.ruleY(ocMajor, {y: d => d, ...grid}),
  ...errorBars(ocGreen, 7),
  Plot.dot(ocGreen, {x: d => d[0], y: d => d[1], symbol: "square", r: 6.4, fill: "#00e800", stroke: "black", strokeWidth: 1.5, clip: true}),
  ...errorBars(ocBlue, 7),
  Plot.dot(ocBlue, {x: d => d[0], y: d => d[1], r: 7, fill: "#0000ff", stroke: "black", strokeWidth: 1.5, clip: true}),
  Plot.text([note], {x: d => d.E, y: d => d.oc, text: d => d.text, fontSize: 44}),
  ...frameTicks(cycleMajor, cycleMinor, ocMajor, ocMinor, H2),
  Plot.text(ocMajor, {y: d => d, text: (d, i) => ocLabels[i], frameAnchor: "left", dx: -43, textAnchor: "middle", fontSize: 20}),
  yTitle(titles.oc, -94.5, 14.5, 21.5)
]);

// Panel 3: Period
const H3 = 1157 - 777;
panel(777, 1157, 10, 6, cycleDomain, perDomain, [
  Plot.ruleX(cycleMajor, {x: d => d, ...grid}),
  Plot.ruleY(perMajor, {y: d => d, ...grid}),
  Plot.line(trendLine, {x: d => d[0], y: d => d[1], stroke: "#a23cf2", strokeWidth: 1.6, strokeDasharray: "7,7"}),
  ...errorBars(period, 7),
  Plot.dot(period, {x: d => d[0], y: d => d[1], r: 7, fill: "#0000ff", stroke: "black", strokeWidth: 1.5, clip: true}),
  ...frameTicks(cycleMajor, cycleMinor, perMajor, perMinor, H3),
  Plot.text(perMajor, {y: d => d, text: (d, i) => perLabels[i], frameAnchor: "left", dx: -43, textAnchor: "middle", fontSize: 20}),
  yTitle(titles.per, -95, 15, 22.5)
]);

// Panel 4: Amplitude
const H4 = 1537 - 1157;
panel(1157, 1537, 6, 65, cycleDomain, ampDomain, [
  Plot.ruleX(cycleMajor, {x: d => d, ...grid}),
  Plot.ruleY(ampMajor, {y: d => d, ...grid}),
  ...errorBars(amplitude, 7),
  Plot.dot(amplitude, {x: d => d[0], y: d => d[1], symbol: hexFlat, r: 8.5, fill: "#0000ff", stroke: "black", strokeWidth: 1.5, clip: true}),
  ...frameTicks(cycleMajor, cycleMinor, ampMajor, ampMinor, H4),
  Plot.text(ampMajor, {y: d => d, text: d => String(d), frameAnchor: "left", dx: -43, textAnchor: "middle", fontSize: 20}),
  Plot.text(cycleMajor, {x: d => d, text: (d, i) => cycleLabels[i], frameAnchor: "bottom", dy: 26, fontSize: 21}),
  Plot.text([titles.bottom], {text: d => d, frameAnchor: "bottom", dy: 52, fontFamily: titleFont, fontSize: 25}),
  yTitle(titles.amp, -94.5, 15, 22.5)
]);
</script>
</body></html>
